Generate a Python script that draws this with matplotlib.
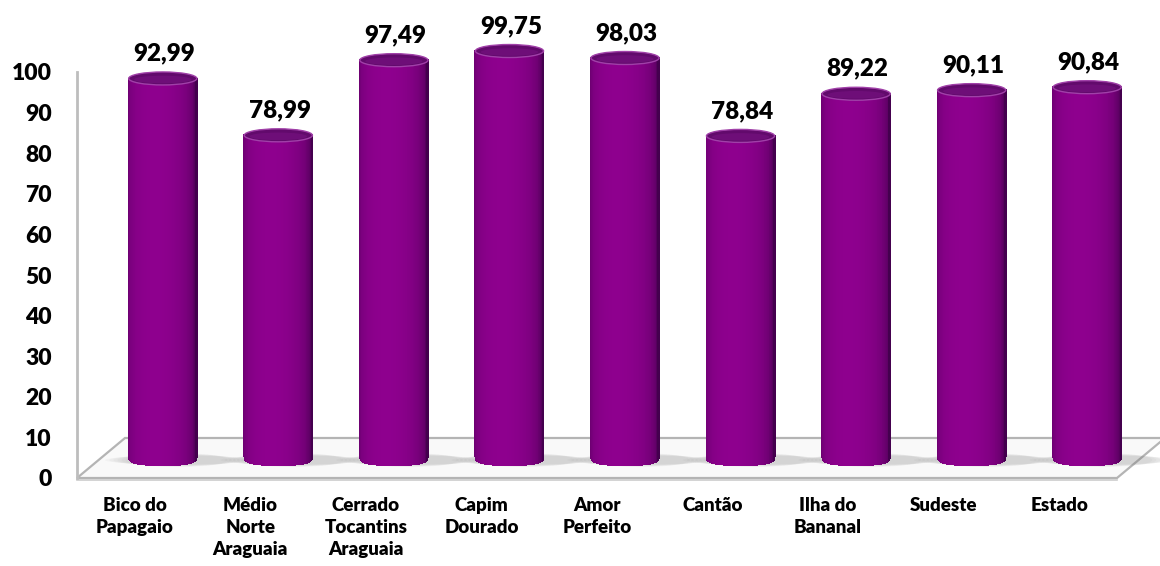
import numpy as np
import matplotlib
matplotlib.use('Agg')
import matplotlib.pyplot as plt
from matplotlib.collections import PolyCollection
from matplotlib.patches import Polygon, Ellipse
from matplotlib.transforms import ScaledTranslation
from matplotlib.font_manager import FontProperties

regions = ["Bico do\nPapagaio", "Médio\nNorte\nAraguaia", "Cerrado\nTocantins\nAraguaia",
           "Capim\nDourado", "Amor\nPerfeito", "Cantão", "Ilha do\nBananal",
           "Sudeste", "Estado"]
values = [92.99, 78.99, 97.49, 99.75, 98.03, 78.84, 89.22, 90.11, 90.84]
yticks = [0, 10, 20, 30, 40, 50, 60, 70, 80, 90, 100]

FONT = ["Lato", "DejaVu Sans"]
fp_val = FontProperties(family=FONT, weight="heavy", size=17.5)
fp_y = FontProperties(family=FONT, weight="heavy", size=16.5)
fp_x = FontProperties(family=FONT, weight="heavy", size=13.5)

DPI = 100
fig = plt.figure(figsize=(11.6, 5.66), dpi=DPI)
fig.patch.set_facecolor("white")
ax = fig.add_axes([77 / 1160, 88 / 566, 1040 / 1160, 406 / 566])
ax.set_xlim(0, len(values))
ax.set_ylim(0, 100)
for sp in ax.spines.values():
    sp.set_visible(False)

# px per data unit
PX_X = 1040 / len(values)
PX_Y = 406 / 100

# ── floor (3D parallelogram) ───────────────────────────────────────────────
depth_x, depth_y = 48 / PX_X, 40 / PX_Y
n = len(values)
floor = Polygon([(0, 0), (n, 0), (n + depth_x, depth_y), (depth_x, depth_y)],
                closed=True, facecolor="#f9f9f9", edgecolor="#b4b4b4", lw=1.6,
                clip_on=False, zorder=1)
ax.add_patch(floor)
ax.plot([0, n], [-0.6, -0.6], color="#cccccc", lw=1.2, clip_on=False, zorder=1)
# left wall edge
ax.plot([0, 0], [0, 100], color="#bdbdbd", lw=2.0, clip_on=False, zorder=1)

# bars sit half-way into the floor
bar_tr = ax.transData + ScaledTranslation(0.28, 0.22, fig.dpi_scale_trans)

bw = 0.59
top_h = 13 / PX_Y      # top ellipse height (data units)
bot_d = 9 / PX_Y       # depth of rounded bottom

dark = np.array([0x44, 0x00, 0x4e]) / 255
bright = np.array([0x8e, 0x00, 0x8e]) / 255

N = 80
u = np.linspace(-1, 1, N + 1)
uc = 0.5 * (u[:-1] + u[1:])
theta = np.arcsin(uc)
shade = np.clip(np.cos(theta + 0.2), 0, 1) ** 0.55
cols = dark[None, :] + (bright - dark)[None, :] * shade[:, None]
cols = np.column_stack([cols, np.ones(N)])


def bottom_profile(uu):
    return bot_d * (1 - np.abs(uu) ** 3) ** (1 / 3)


for i, v in enumerate(values):
    cx = i + 0.5
    # soft floor shadow
    for k in range(6):
        ax.add_patch(Ellipse((cx + 0.12, -1.0), bw * (1.5 + 0.12 * k), (14 - k) / PX_Y,
                             facecolor="#7a7a7a", alpha=0.05, lw=0,
                             transform=bar_tr, zorder=2, clip_on=False))
    xs = cx + u * bw / 2
    polys = []
    for j in range(N):
        xa, xb = xs[j], xs[j + 1]
        ya = -bottom_profile(u[j])
        yb = -bottom_profile(u[j + 1])
        polys.append([(xa, ya), (xb, yb), (xb, v), (xa, v)])
    body = PolyCollection(polys, facecolors=cols, edgecolors=cols, linewidths=0.6,
                          antialiaseds=False, transform=bar_tr, zorder=3)
    body.set_clip_on(False)
    ax.add_collection(body)
    ax.add_patch(Ellipse((cx, v), bw, top_h, facecolor="#620a6c",
                         edgecolor="#a040a8", lw=1.0, transform=bar_tr, zorder=4,
                         clip_on=False))
    ax.add_patch(Ellipse((cx, v - top_h * 0.08), bw * 0.84, top_h * 0.58,
                         facecolor="#72107c", edgecolor="none", alpha=0.8,
                         transform=bar_tr, zorder=4, clip_on=False))
    ax.annotate(f"{v:.2f}".replace(".", ","), xy=(cx, v), xycoords=bar_tr,
                xytext=(1, 13), textcoords="offset points",
                ha="center", va="baseline", fontproperties=fp_val,
                color="black", zorder=5, annotation_clip=False)

ax.set_yticks(yticks)
ax.set_yticklabels([str(t) for t in yticks], fontproperties=fp_y)
ax.tick_params(axis="y", length=0, pad=18)
ax.set_xticks([i + 0.5 for i in range(n)])
ax.set_xticklabels(regions, fontproperties=fp_x, linespacing=1.35, va="top")
ax.tick_params(axis="x", length=0, pad=14)

fig.savefig("out.png", dpi=DPI, facecolor="white")
